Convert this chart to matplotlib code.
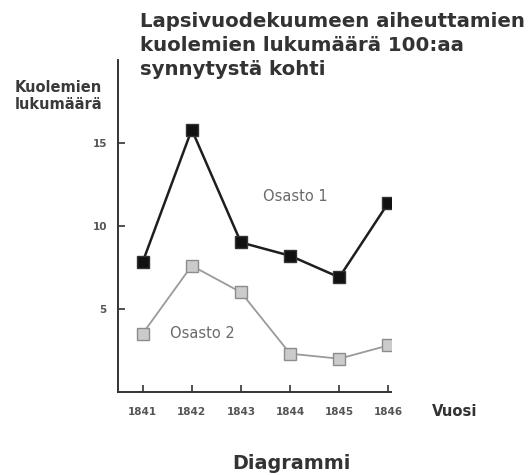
import matplotlib
matplotlib.use('Agg')
import matplotlib.pyplot as plt

#--------------------------------------------------------------
# Data
years    = [1841, 1842, 1843, 1844, 1845, 1846]
osasto_1 = [7.8, 15.8, 9.0, 8.2, 6.9, 11.4]
osasto_2 = [3.5, 7.6, 6.0, 2.3, 2.0, 2.8]
y_ticks  = [5, 10, 15]

plt.rcParams['font.family'] = ['DejaVu Sans']

#--------------------------------------------------------------
fig = plt.figure(figsize=(5.29, 4.75), dpi=100)
ax  = fig.add_axes([0.223, 0.175, 0.516, 0.699])

# Osasto 1 (black) and Osasto 2 (grey)
ax.plot(years, osasto_1, color='#1e1e1e', lw=1.8, marker='s', ms=9,
        mfc='#111111', mec='#333333', mew=1, zorder=3)
ax.plot(years, osasto_2, color='#9a9a9a', lw=1.3, marker='s', ms=9,
        mfc='#cbcbcb', mec='#8c8c8c', mew=1, zorder=3)

ax.set_xlim(1840.5, 1846.05)
ax.set_ylim(0, 20)

ax.set_xticks(years)
ax.set_xticklabels([str(y) for y in years], fontsize=7.5, fontweight='bold', color='#555555')
ax.set_yticks(y_ticks)
ax.set_yticklabels([str(t) for t in y_ticks], fontsize=7.5, fontweight='bold', color='#555555')
ax.tick_params(axis='x', direction='in', length=5, width=1.2, color='#333333', pad=11)
ax.tick_params(axis='y', direction='in', length=5, width=1.2, color='#333333', pad=8)

for side in ['top', 'right']:
    ax.spines[side].set_visible(False)
for side in ['left', 'bottom']:
    ax.spines[side].set_linewidth(1.4)
    ax.spines[side].set_color('#333333')

# Series labels
ax.text(1843.45, 11.75, 'Osasto 1', fontsize=10.5, color='#6a6a6a', ha='left', va='center')
ax.text(1841.56, 3.5, 'Osasto 2', fontsize=10.5, color='#6a6a6a', ha='left', va='center')

# Figure texts
fig.text(0.265, 0.975, 'Lapsivuodekuumeen aiheuttamien\nkuolemien lukumäärä 100:aa\nsynnytystä kohti',
         fontsize=14.2, fontweight='bold', color='#333333', ha='left', va='top', linespacing=1.33)
fig.text(0.028, 0.798, 'Kuolemien\nlukumäärä', fontsize=10.5, fontweight='bold', color='#3a3a3a',
         ha='left', va='center', linespacing=1.1)
fig.text(0.817, 0.133, 'Vuosi', fontsize=10.6, fontweight='bold', color='#333333', ha='left', va='center')
fig.text(0.55, 0.025, 'Diagrammi', fontsize=13.8, fontweight='bold', color='#333333', ha='center', va='center')

plt.savefig('out.png', dpi=100, facecolor='white')
